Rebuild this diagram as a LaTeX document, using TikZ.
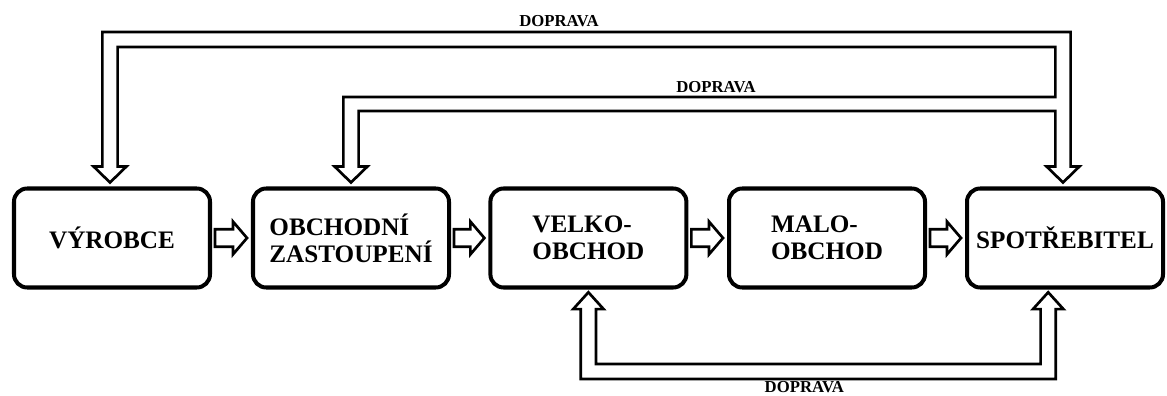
\documentclass[tikz,border=0pt]{standalone}
\usepackage{fontspec}
\setmainfont{Liberation Serif}
\usetikzlibrary{calc}

\begin{document}
\begin{tikzpicture}[
	stage/.style={draw, line width=2.85pt, rounded corners=0.33cm, minimum width=4.9cm, minimum height=2.475cm, inner sep=0pt, align=left, font=\fontsize{17.9}{19.2}\selectfont\bfseries},
	hollow/.style={draw, fill=white, line width=1.9pt, line join=miter},
	label/.style={anchor=base, inner sep=0pt, font=\fontsize{11.9}{13}\selectfont\bfseries}
	]
			\useasboundingbox (0,0) rectangle (29.175,9.9);
			
			\node	(vyrobce) at (2.8,3.95) [stage] {VÝROBCE};
			\node	(zastoupeni) at (8.775,3.95) [stage] {OBCHODNÍ\\ZASTOUPENÍ};
			\node	(velko) at (14.71,3.95) [stage] {VELKO-\\OBCHOD};
			\node	(malo) at (20.675,3.95) [stage] {MALO-\\OBCHOD};
			\node	(spotrebitel) at (26.625,3.95) [stage] {SPOTŘEBITEL};
			
			% doprava labels
			\node	(doprava1) at (13.975,9.225) [label] {DOPRAVA};
			\node	(doprava2) at (17.9,7.575) [label] {DOPRAVA};
			\node	(doprava3) at (20.11,0.09) [label] {DOPRAVA};
			
			% arrows between neighbours
			\foreach \a/\b in {vyrobce/zastoupeni, zastoupeni/velko, velko/malo, malo/spotrebitel}
				\draw[hollow] ($(\a.east)+(0.075,0.22)$) -- ($(\b.west)+(-0.45,0.22)$) -- ++(0,0.19)
				-- ($(\b.west)+(-0.1,0)$) -- ++(-0.35,-0.41) -- ++(0,0.19)
				-- ($(\a.east)+(0.075,-0.22)$) -- cycle;
			
			% doprava from spotrebitel to vyrobce and zastoupeni
			\draw[hollow] let \p1=($(vyrobce.north)+(-0.05,0.1)$),
				\p2=($(zastoupeni.north)+(0,0.1)$),
				\p3=($(spotrebitel.north)+(-0.05,0.1)$) in
			(\p1) -- ++(0.41,0.4) -- ++(-0.22,0) -- (\x1+0.19cm,8.725cm)
			-- (\x3-0.19cm,8.725cm) -- (\x3-0.19cm,7.475cm) -- (\x2-0.19cm,7.475cm)
			-- (\x2-0.19cm,\y2+0.4cm) -- ++(-0.22,0) -- (\p2) -- ++(0.41,0.4) -- ++(-0.22,0)
			-- (\x2+0.19cm,7.125cm) -- (\x3-0.19cm,7.125cm) -- (\x3-0.19cm,\y3+0.4cm)
			-- ++(-0.22,0) -- (\p3) -- ++(0.41,0.4) -- ++(-0.22,0) -- (\x3+0.19cm,9.1cm)
			-- (\x1-0.19cm,9.1cm) -- (\x1-0.19cm,\y1+0.4cm) -- ++(-0.22,0) -- cycle;
			
			% doprava between velko and spotrebitel
			\draw[hollow] let \p1=($(velko.south)+(0,-0.07)$),
				\p2=($(spotrebitel.south)+(-0.42,-0.07)$) in
			(\p1) -- ++(0.38,-0.42) -- ++(-0.19,0) -- (\x1+0.19cm,0.8cm)
			-- (\x2-0.19cm,0.8cm) -- (\x2-0.19cm,\y2-0.42cm) -- ++(-0.19,0) -- (\p2)
			-- ++(0.38,-0.42) -- ++(-0.19,0) -- (\x2+0.19cm,0.425cm)
			-- (\x1-0.19cm,0.425cm) -- (\x1-0.19cm,\y1-0.42cm) -- ++(-0.19,0) -- cycle;
		\end{tikzpicture}
\end{document}
